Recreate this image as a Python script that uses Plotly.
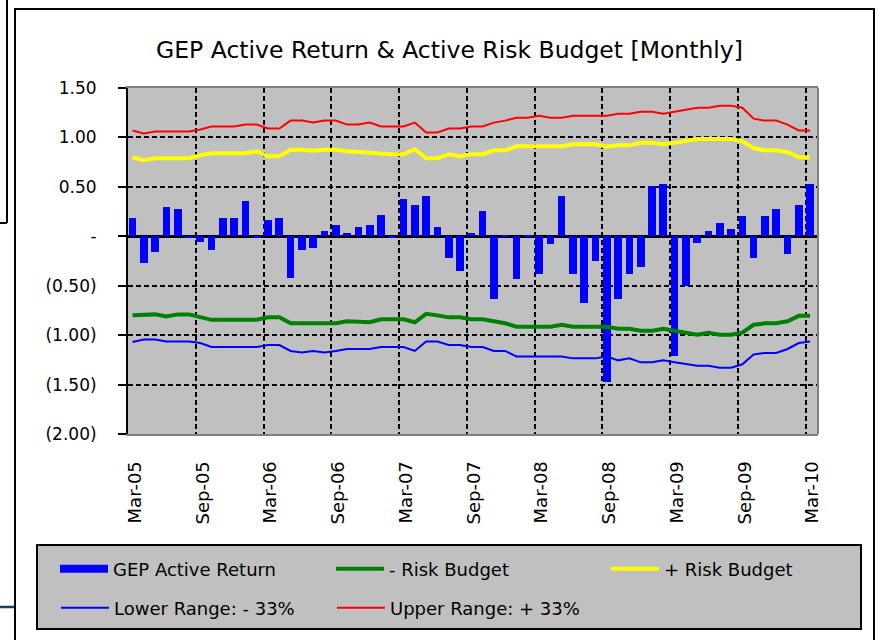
import pandas as pd
import plotly.graph_objects as go

# Monthly observations, Mar-05 .. Mar-10
months = pd.date_range("2005-03-01", "2010-03-01", freq="MS").strftime("%b-%y").tolist()

active_return = [
    0.19, -0.27, -0.16, 0.30, 0.28, -0.02, -0.06, -0.14, 0.19, 0.19,
    0.355, -0.02, 0.16, 0.19, -0.42, -0.14, -0.12, 0.05, 0.11, 0.03,
    0.09, 0.11, 0.22, -0.02, 0.375, 0.32, 0.41, 0.09, -0.22, -0.35,
    0.03, 0.26, -0.63, 0.01, -0.43, 0.01, -0.385, -0.08, 0.41, -0.385,
    -0.67, -0.25, -1.47, -0.63, -0.385, -0.31, 0.51, 0.53, -1.21, -0.50,
    -0.065, 0.05, 0.13, 0.07, 0.21, -0.22, 0.21, 0.28, -0.18, 0.32, 0.53,
]

plus_risk_budget = [
    0.80, 0.77, 0.79, 0.79, 0.79, 0.79, 0.82, 0.84, 0.84, 0.84,
    0.84, 0.86, 0.81, 0.81, 0.875, 0.875, 0.865, 0.875, 0.875, 0.86,
    0.85, 0.85, 0.83, 0.83, 0.83, 0.88, 0.79, 0.79, 0.83, 0.81,
    0.83, 0.83, 0.87, 0.87, 0.91, 0.91, 0.91, 0.91, 0.91, 0.93,
    0.93, 0.93, 0.905, 0.92, 0.92, 0.945, 0.945, 0.93, 0.945, 0.96,
    0.985, 0.985, 0.985, 0.985, 0.96, 0.89, 0.87, 0.87, 0.85, 0.80, 0.80,
]

minus_risk_budget = [
    -0.80, -0.79, -0.79, -0.81, -0.79, -0.79, -0.82, -0.845, -0.845, -0.845,
    -0.845, -0.845, -0.82, -0.82, -0.88, -0.88, -0.88, -0.88, -0.88, -0.86,
    -0.86, -0.87, -0.84, -0.84, -0.84, -0.87, -0.785, -0.80, -0.82, -0.82,
    -0.84, -0.84, -0.86, -0.88, -0.915, -0.915, -0.915, -0.915, -0.895, -0.915,
    -0.915, -0.915, -0.915, -0.935, -0.935, -0.955, -0.955, -0.935, -0.955, -0.975,
    -0.995, -0.975, -0.995, -0.995, -0.975, -0.895, -0.88, -0.88, -0.86, -0.805, -0.805,
]

upper_range = [
    1.07, 1.04, 1.06, 1.06, 1.06, 1.06, 1.08, 1.11, 1.11, 1.11,
    1.13, 1.13, 1.09, 1.09, 1.17, 1.17, 1.15, 1.17, 1.17, 1.13,
    1.13, 1.15, 1.11, 1.11, 1.11, 1.15, 1.05, 1.05, 1.09, 1.09,
    1.11, 1.11, 1.15, 1.17, 1.20, 1.20, 1.22, 1.20, 1.20, 1.22,
    1.22, 1.22, 1.22, 1.24, 1.24, 1.26, 1.26, 1.24, 1.26, 1.28,
    1.30, 1.30, 1.32, 1.32, 1.30, 1.19, 1.17, 1.17, 1.13, 1.07, 1.07,
]

lower_range = [
    -1.07, -1.045, -1.045, -1.065, -1.065, -1.065, -1.08, -1.12, -1.12, -1.12,
    -1.12, -1.12, -1.10, -1.10, -1.16, -1.175, -1.16, -1.175, -1.16, -1.14,
    -1.14, -1.14, -1.12, -1.12, -1.12, -1.16, -1.065, -1.065, -1.10, -1.10,
    -1.12, -1.12, -1.16, -1.16, -1.215, -1.215, -1.215, -1.215, -1.215, -1.235,
    -1.235, -1.235, -1.215, -1.255, -1.235, -1.275, -1.275, -1.255, -1.275, -1.295,
    -1.31, -1.31, -1.33, -1.33, -1.295, -1.195, -1.18, -1.18, -1.14, -1.08, -1.065,
]

x_tick_labels = ["Mar-05", "Sep-05", "Mar-06", "Sep-06", "Mar-07", "Sep-07",
                 "Mar-08", "Sep-08", "Mar-09", "Sep-09", "Mar-10"]
y_tick_values = [1.5, 1.0, 0.5, 0.0, -0.5, -1.0, -1.5, -2.0]
y_tick_labels = ["1.50", "1.00", "0.50", "-", "(0.50)", "(1.00)", "(1.50)", "(2.00)"]

idx = list(range(len(months)))
tick_pos = [months.index(m) - 0.4 for m in x_tick_labels]

FONT = "DejaVu Sans"
W, H = 878, 640
L, R, T, B = 128, 60, 88, 206
PW, PH = W - L - R, H - T - B


def px_x(p):
    return (p - L) / PW


def px_y(p):
    return (H - B - p) / PH


fig = go.Figure()

fig.add_trace(go.Bar(
    x=idx, y=active_return, width=0.68, customdata=months,
    marker=dict(color="#0000FF", line=dict(width=0)),
    name="GEP Active Return", legendgroup="ret", showlegend=False,
    hovertemplate="%{customdata}: %{y:.2f}<extra></extra>",
))

# legend entry for the bars, drawn as a thick swatch
fig.add_trace(go.Scatter(
    x=[None], y=[None], mode="lines", line=dict(color="#0000FF", width=8),
    name="GEP Active Return", legendgroup="ret", legend="legend",
    hoverinfo="skip",
))
fig.add_trace(go.Scatter(
    x=idx, y=minus_risk_budget, mode="lines", line=dict(color="#008000", width=4),
    name="- Risk Budget", legend="legend2",
))
fig.add_trace(go.Scatter(
    x=idx, y=plus_risk_budget, mode="lines", line=dict(color="#FFFF00", width=4),
    name="+ Risk Budget", legend="legend3",
))
fig.add_trace(go.Scatter(
    x=idx, y=lower_range, mode="lines", line=dict(color="#0000FF", width=2),
    name="Lower Range: - 33%", legend="legend4",
))
fig.add_trace(go.Scatter(
    x=idx, y=upper_range, mode="lines", line=dict(color="#FF0000", width=2),
    name="Upper Range: + 33%", legend="legend5",
))


def legend_at(x_px, y_px):
    return dict(
        x=px_x(x_px), y=px_y(y_px), xanchor="left", yanchor="middle",
        orientation="h", bgcolor="rgba(0,0,0,0)", borderwidth=0,
        font=dict(family=FONT, size=18, color="#000000"),
        itemwidth=48, itemclick="toggle",
    )


shapes = [
    # chart frame
    dict(type="rect", xref="paper", yref="paper",
         x0=px_x(15), x1=px_x(874), y0=px_y(660), y1=px_y(9),
         line=dict(color="#000000", width=2), fillcolor="rgba(0,0,0,0)", layer="below"),
    # neighbouring frame edges
    dict(type="line", xref="paper", yref="paper",
         x0=px_x(7), x1=px_x(7), y0=px_y(-5), y1=px_y(223),
         line=dict(color="#000000", width=2)),
    dict(type="line", xref="paper", yref="paper",
         x0=px_x(-5), x1=px_x(7), y0=px_y(223), y1=px_y(223),
         line=dict(color="#000000", width=2)),
    dict(type="line", xref="paper", yref="paper",
         x0=px_x(-5), x1=px_x(14), y0=px_y(607), y1=px_y(607),
         line=dict(color="#1F3B5C", width=2.5)),
    # right edge of the plot area
    dict(type="line", xref="paper", yref="paper",
         x0=1, x1=1, y0=0, y1=1, line=dict(color="#808080", width=2)),
    # legend panel
    dict(type="rect", xref="paper", yref="paper",
         x0=px_x(37), x1=px_x(861), y0=px_y(629), y1=px_y(545),
         line=dict(color="#000000", width=2), fillcolor="#C0C0C0", layer="below"),
]

fig.update_layout(
    width=W, height=H,
    margin=dict(l=L, r=R, t=T, b=B),
    paper_bgcolor="#FFFFFF",
    plot_bgcolor="#C0C0C0",
    font=dict(family=FONT, color="#000000"),
    title=dict(
        text="GEP Active Return & Active Risk Budget [Monthly]",
        font=dict(family=FONT, size=23.5, color="#000000"),
        x=449.5 / W, xref="container", xanchor="center",
        y=1 - 50 / H, yref="container", yanchor="middle",
    ),
    bargap=0,
    showlegend=True,
    legend=legend_at(55, 569),
    legend2=legend_at(331, 569),
    legend3=legend_at(606, 569),
    legend4=legend_at(56, 608),
    legend5=legend_at(332, 608),
    shapes=shapes,
    hovermode="closest",
)

grid_style = dict(showgrid=True, gridcolor="#000000", gridwidth=1.5, griddash="5px,3px")

fig.update_xaxes(
    range=[-0.4, 60.7],
    tickmode="array", tickvals=tick_pos, ticktext=x_tick_labels,
    tickangle=-90, ticks="", ticklabelstandoff=18, ticklabelshift=7,
    tickfont=dict(family=FONT, size=18, color="#000000"),
    showline=True, linecolor="#808080", linewidth=2, mirror=True,
    zeroline=False, **grid_style,
)
fig.update_yaxes(
    range=[-2.0, 1.5],
    tickmode="array", tickvals=y_tick_values, ticktext=y_tick_labels,
    ticks="outside", ticklen=8, tickwidth=2, tickcolor="#000000",
    ticklabelstandoff=18,
    tickfont=dict(family=FONT, size=17, color="#000000"),
    showline=True, linecolor="#000000", linewidth=2,
    zeroline=True, zerolinecolor="#000000", zerolinewidth=2.5,
    **grid_style,
)

fig.write_html("out.html")
